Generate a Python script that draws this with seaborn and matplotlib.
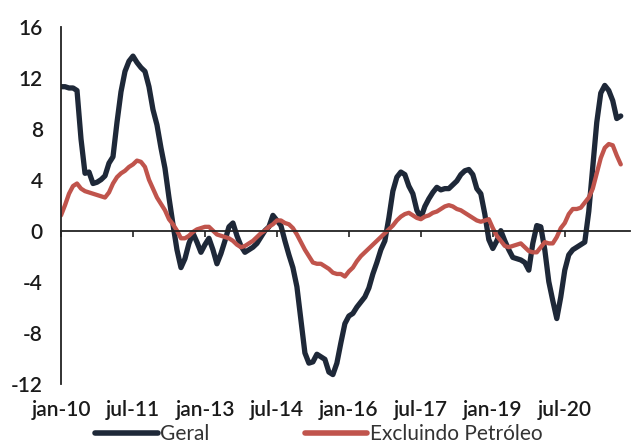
import numpy as np
import pandas as pd
import matplotlib
matplotlib.use('Agg')
import matplotlib.pyplot as plt
import seaborn as sns

# monthly series, jan-2010 .. sep-2021
geral = [
    11.3, 11.3, 11.2, 11.2, 11.0, 7.2, 4.5, 4.6, 3.7, 3.8,
    4.0, 4.3, 5.3, 5.8, 8.5, 10.9, 12.5, 13.3, 13.7, 13.2,
    12.8, 12.5, 11.3, 9.5, 8.3, 6.5, 4.9, 2.6, 0.5, -1.5,
    -2.9, -2.2, -1.0, -0.2, -0.9, -1.7, -1.1, -0.6, -1.5, -2.6,
    -1.8, -0.8, 0.3, 0.6, -0.4, -1.2, -1.7, -1.5, -1.3, -1.0,
    -0.5, 0.0, 0.3, 1.2, 0.8, 0.4, -0.8, -1.9, -2.9, -4.4,
    -7.0, -9.6, -10.4, -10.3, -9.7, -9.9, -10.1, -11.1, -11.3, -10.4,
    -8.8, -7.3, -6.7, -6.5, -6.0, -5.6, -5.2, -4.5, -3.4, -2.5,
    -1.5, -0.8, 1.0, 3.1, 4.2, 4.6, 4.4, 3.5, 2.9, 1.6,
    1.0, 1.9, 2.5, 3.0, 3.4, 3.2, 3.3, 3.3, 3.6, 3.9,
    4.4, 4.7, 4.8, 4.4, 3.3, 2.9, 1.3, -0.7, -1.4, -0.8,
    0.0, -0.8, -1.5, -2.1, -2.2, -2.3, -2.5, -3.1, -1.0, 0.4,
    0.3, -1.5, -4.0, -5.5, -6.9, -5.2, -3.1, -1.9, -1.5, -1.3,
    -1.1, -0.9, 1.5, 5.0, 8.5, 10.8, 11.4, 11.0, 10.2, 8.8,
    9.0,
]
excl_petroleo = [
    1.2, 2.0, 2.9, 3.5, 3.7, 3.3, 3.1, 3.0, 2.9, 2.8,
    2.7, 2.6, 3.0, 3.7, 4.2, 4.5, 4.7, 5.0, 5.2, 5.5,
    5.4, 5.0, 4.0, 3.3, 2.6, 2.1, 1.6, 0.9, 0.5, 0.0,
    -0.6, -0.6, -0.4, -0.1, 0.1, 0.2, 0.3, 0.3, 0.0, -0.3,
    -0.4, -0.5, -0.6, -0.8, -1.1, -1.3, -1.2, -1.0, -0.8, -0.5,
    -0.2, 0.0, 0.3, 0.5, 0.8, 0.8, 0.6, 0.5, 0.2, -0.3,
    -0.9, -1.5, -2.0, -2.5, -2.6, -2.6, -2.8, -3.0, -3.3, -3.4,
    -3.4, -3.6, -3.2, -2.9, -2.4, -2.0, -1.7, -1.4, -1.1, -0.8,
    -0.5, -0.2, 0.1, 0.4, 0.8, 1.1, 1.3, 1.4, 1.2, 1.0,
    0.9, 1.1, 1.2, 1.4, 1.5, 1.7, 1.9, 2.0, 1.9, 1.7,
    1.6, 1.4, 1.2, 1.0, 0.8, 0.7, 0.8, 0.9, 0.2, -0.4,
    -0.8, -1.2, -1.3, -1.2, -1.1, -1.0, -1.3, -1.6, -1.7, -1.7,
    -1.3, -0.9, -1.0, -1.0, -0.5, 0.2, 0.6, 1.3, 1.7, 1.7,
    1.8, 2.2, 2.6, 3.3, 4.5, 5.7, 6.5, 6.8, 6.7, 5.9,
    5.2,
]
tick_labels = ['jan-10', 'jul-11', 'jan-13', 'jul-14', 'jan-16', 'jul-17', 'jan-19', 'jul-20']
tick_step = 18  # months between labels
y_ticks = [-12, -8, -4, 0, 4, 8, 12, 16]

mes = np.arange(len(geral))
df = pd.concat([
    pd.DataFrame({'mes': mes, 'valor': geral, 'serie': 'Geral'}),
    pd.DataFrame({'mes': mes, 'valor': excl_petroleo, 'serie': 'Excluindo Petróleo'}),
], ignore_index=True)

sns.set_style('white')
plt.rcParams['font.family'] = ['Lato', 'DejaVu Sans']

fig = plt.figure(figsize=(6.31, 4.47), dpi=100)
ax = fig.add_axes([0.0967, 0.142, 0.901, 0.798])

sns.lineplot(data=df, x='mes', y='valor', hue='serie', ax=ax,
             palette={'Geral': '#1e2838', 'Excluindo Petróleo': '#c0544c'},
             hue_order=['Geral', 'Excluindo Petróleo'], legend=False)
for ln, lw in zip(ax.get_lines(), [3.8, 3.1]):
    ln.set_linewidth(lw)
    ln.set_solid_joinstyle('round')

ax.set_xlim(0, 142.2)
ax.set_ylim(-12, 16)
ax.set_xlabel('')
ax.set_ylabel('')

for s in ['top', 'right']:
    ax.spines[s].set_visible(False)
ax.spines['left'].set_color('#222222')
ax.spines['left'].set_linewidth(1.3)
ax.spines['bottom'].set_position(('data', 0))
ax.spines['bottom'].set_color('#222222')
ax.spines['bottom'].set_linewidth(1.3)

ticks = [i * tick_step for i in range(len(tick_labels))]
ax.set_xticks(ticks)
ax.tick_params(axis='x', direction='out', length=4, width=1.2, color='#222222', labelbottom=False, bottom=True)
ax.set_yticks(y_ticks)
ax.set_yticklabels([str(v) for v in y_ticks])
ax.tick_params(axis='y', length=0, pad=13, labelsize=15, labelcolor='#1a1a1a')

sec = ax.secondary_xaxis(0)
sec.set_xticks(ticks)
sec.set_xticklabels(tick_labels)
sec.tick_params(length=0, pad=12, labelsize=15, labelcolor='#1a1a1a')
sec.spines['bottom'].set_visible(False)

for lab in ax.get_yticklabels() + sec.get_xticklabels():
    lab.set_fontweight('semibold')

handles = [plt.Line2D([], [], color='#1e2838', lw=4),
           plt.Line2D([], [], color='#c0544c', lw=4)]
fig.legend(handles, ['Geral', 'Excluindo Petróleo'], loc='lower center',
           bbox_to_anchor=(0.505, -0.035), ncol=2, frameon=False, fontsize=15,
           handlelength=3.0, handletextpad=0.1, columnspacing=4.6, labelcolor='#333333')

fig.savefig('out.png', dpi=100)
